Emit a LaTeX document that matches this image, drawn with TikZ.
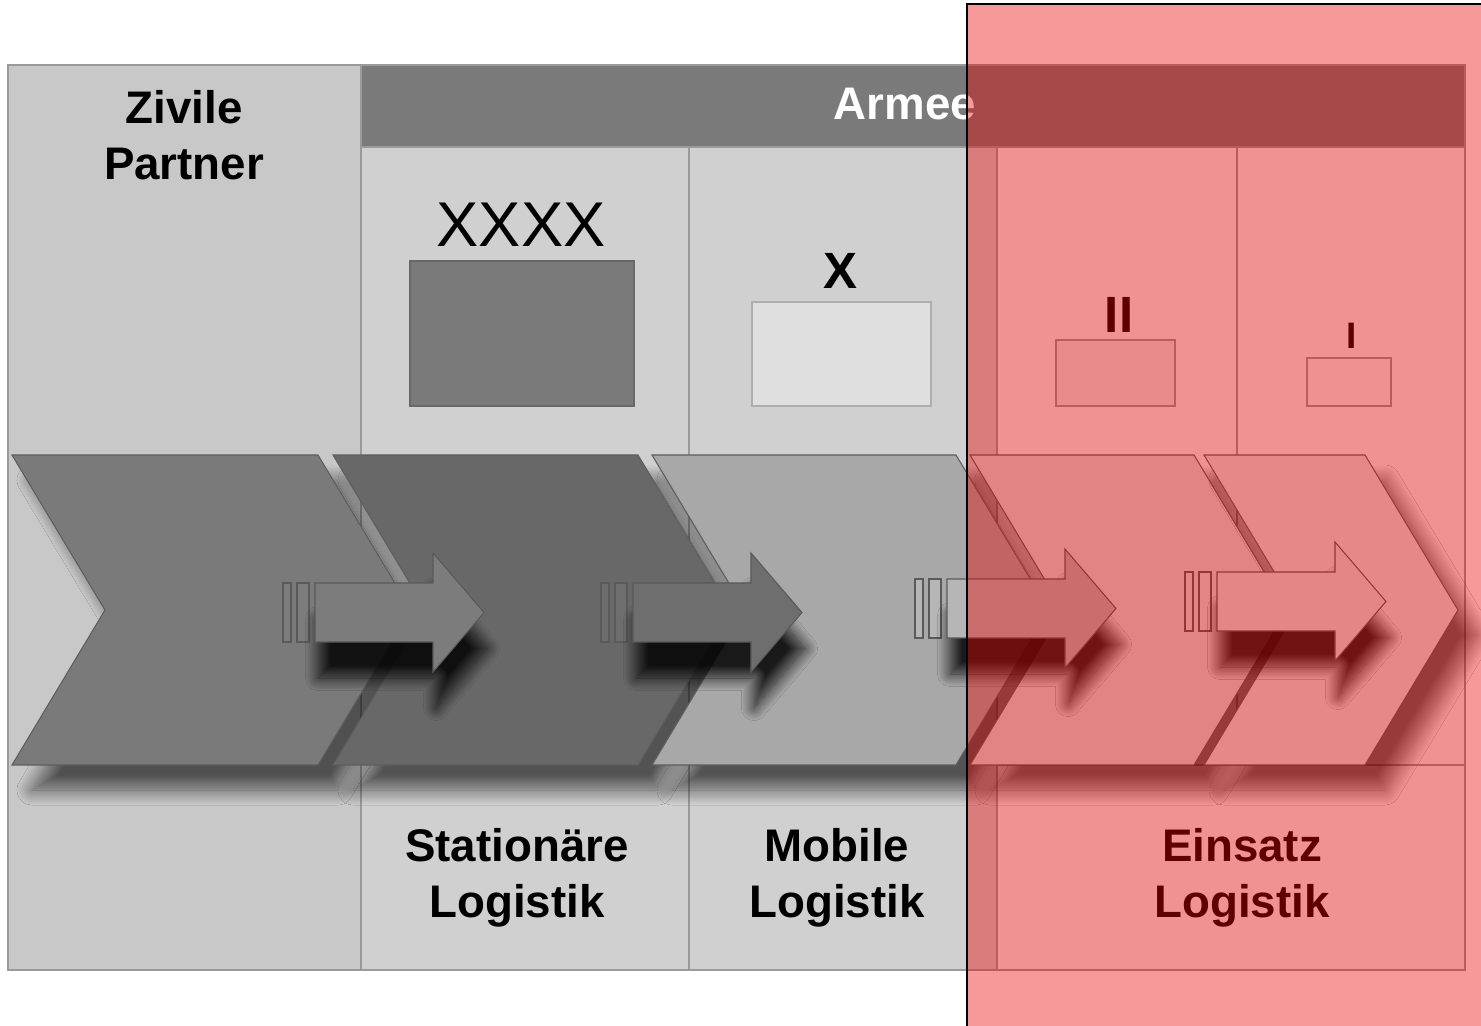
\documentclass[tikz,border=0pt]{standalone}
\usepackage{fontspec}
\setmainfont{Liberation Sans}
\usetikzlibrary{shadows.blur}

\definecolor{frameline}{HTML}{9A9A9A}
\definecolor{zivil}{HTML}{C8C8C8}
\definecolor{armee}{HTML}{D0D0D0}
\definecolor{einsatz}{HTML}{F4F4F4}
\definecolor{header}{HTML}{7A7A7A}
\definecolor{chevline}{HTML}{5E5E5E}
\definecolor{chevA}{HTML}{7A7A7A}
\definecolor{chevB}{HTML}{686868}
\definecolor{chevC}{HTML}{A8A8A8}
\definecolor{chevD}{HTML}{DCDCDC}
\definecolor{chevE}{HTML}{E4E4E4}
\definecolor{arrowline}{HTML}{5A5A5A}
\definecolor{arrA}{HTML}{7C7C7C}
\definecolor{arrB}{HTML}{6E6E6E}
\definecolor{arrC}{HTML}{B6B6B6}
\definecolor{arrD}{HTML}{E0E0E0}
\definecolor{markred}{HTML}{EB0000}

\begin{document}
\begin{tikzpicture}[x=0.02cm,y=-0.02cm,
        cell/.style={draw=frameline, line width=1pt},
        unitbox/.style={draw=frameline, line width=1pt},
        chev/.style={draw=chevline, line width=0.6pt,
            blur shadow={shadow xshift=0.4cm, shadow yshift=-0.5cm,
                shadow blur radius=0.3cm, shadow blur steps=20, shadow opacity=60}},
        blockarrow/.style={draw=arrowline, line width=0.6pt,
            blur shadow={shadow xshift=0.06cm, shadow yshift=-0.72cm,
                shadow blur radius=0.25cm, shadow blur steps=20, shadow opacity=85}},
        bar/.style={draw=arrowline, line width=0.6pt},
        caption/.style={font=\fontsize{26}{31.7}\selectfont\bfseries, align=center}]
        \useasboundingbox (0,0) rectangle (1481,1026);
        \fill[white] (0,0) rectangle (1481,1026);
        % Spalten
        \filldraw[cell, fill=zivil] (8,65) rectangle (361,970);
        \filldraw[cell, fill=armee] (361,147) rectangle (997,970);
        \filldraw[cell, fill=einsatz] (997,147) rectangle (1465,970);
        \filldraw[cell, fill=header] (361,65) rectangle (1465,147);
        \draw[cell] (689,147) -- (689,970);
        \draw[cell] (1237,147) -- (1237,765);
        \draw[cell] (997,765) -- (1465,765);
        % Truppenzeichen
        \filldraw[unitbox, draw=chevB, fill=header] (410,261) rectangle (634,406);
        \filldraw[unitbox, draw=frameline!80, fill=gray!25] (752,302) rectangle (931,406);
        \filldraw[unitbox, fill=gray!18] (1056,340) rectangle (1175,406);
        \filldraw[unitbox, fill=gray!10] (1307,358) rectangle (1391,406);
        % Pfeile der Kette
        \foreach \a/\w/\c in {12/306/chevA, 333/305/chevB, 652/304/chevC, 970/224/chevD, 1204/161/chevE}
            \filldraw[chev, fill=\c] (\a,455) -- ++(\w,0) -- ++(93,155) -- ++(-93,155) -- ++(-\w,0) -- ++(93,-155) -- cycle;
        \foreach \s/\t/\c in {315/583/arrA, 633/583/arrB, 947/579/arrC, 1217/572/arrD}
        {
            \filldraw[bar, fill=\c] (\s-32,\t) rectangle (\s-24,\t+59);
            \filldraw[bar, fill=\c] (\s-18,\t) rectangle (\s-6,\t+59);
            \filldraw[blockarrow, fill=\c] (\s,\t) -- (\s+118,\t) -- (\s+118,\t-30) -- (\s+169,\t+29.5)
                -- (\s+118,\t+89) -- (\s+118,\t+59) -- (\s,\t+59) -- cycle;
        }
        % Texte
        \node[caption] (zivile) at (184,135) {Zivile\\Partner};
        \node[caption, text=white] (armee) at (905,104) {Armee};
        \node[font=\fontsize{36}{40}\selectfont] (korps) at (521,225) {XXXX};
        \node[font=\fontsize{29}{32}\selectfont\bfseries] (brigade) at (840,271) {X};
        \node[font=\fontsize{29}{32}\selectfont\bfseries] (bataillon) at (1119,315) {II};
        \node[font=\fontsize{21}{24}\selectfont\bfseries] (kompanie) at (1352,336) {I};
        \node[caption] (stationaer) at (517,878) {Stationäre\\Logistik};
        \node[caption] (mobil) at (837,878) {Mobile\\Logistik};
        \node[caption] (einsatz) at (1242,878) {Einsatz\\Logistik};
        % Markierung
        \fill[markred, opacity=0.4] (967,4) rectangle (1481,1026);
        \draw[black, line width=1.2pt] (967,1026) -- (967,4) -- (1481,4);
    \end{tikzpicture}
\end{document}
